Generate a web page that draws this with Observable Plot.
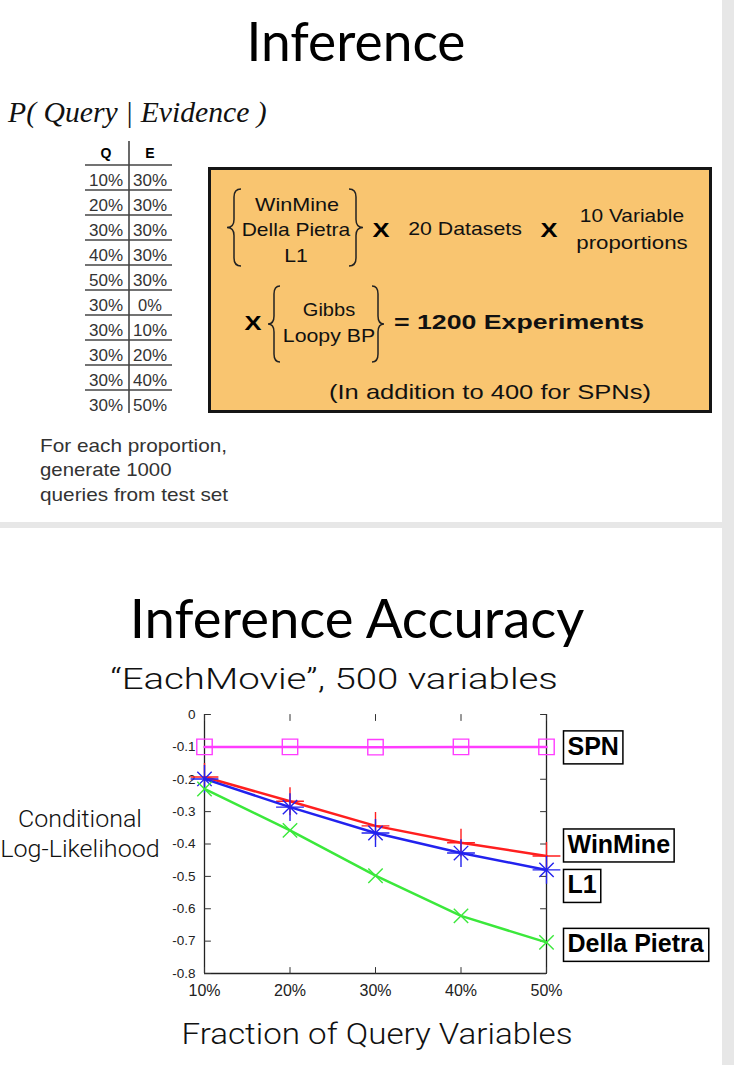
<!DOCTYPE html>
<html><head><meta charset="utf-8">
<script src="https://cdn.jsdelivr.net/npm/d3@7"></script>
<script src="https://cdn.jsdelivr.net/npm/@observablehq/plot@0.6"></script>
<style>
html,body{margin:0;padding:0;}
body{width:734px;height:1065px;background:#e7e7e7;position:relative;overflow:hidden;font-family:"Liberation Sans",Arial,sans-serif;}
.slide{position:absolute;left:0;width:722px;background:#fff;}
.t{position:absolute;white-space:nowrap;line-height:1;}
#chart{position:absolute;left:0;top:700px;}
</style></head><body>
<div class="slide" style="top:0;height:522px"></div>
<div class="slide" style="top:528px;height:537px"></div>
<div id="box" style="position:absolute;left:208px;top:167px;width:504px;height:246px;box-sizing:border-box;border:3px solid #151515;background:#f9c570;"></div>
<div id="chart"></div>
<script>
// ---------- data ----------
const tableQ = ["10%","20%","30%","40%","50%","30%","30%","30%","30%","30%"];
const tableE = ["30%","30%","30%","30%","30%","0%","10%","20%","40%","50%"];
const fractions = [10, 20, 30, 40, 50];
const xTickLabels = ["10%", "20%", "30%", "40%", "50%"];
const yTicks = [0, -0.1, -0.2, -0.3, -0.4, -0.5, -0.6, -0.7, -0.8];
const seriesNames = ["SPN", "WinMine", "L1", "Della Pietra"];
const spn = [-0.100, -0.100, -0.101, -0.100, -0.100];
const winmine = [-0.193, -0.268, -0.344, -0.396, -0.437];
const l1 = [-0.199, -0.286, -0.366, -0.428, -0.480];
const dellaPietra = [-0.230, -0.358, -0.498, -0.622, -0.704];
const labelY = [-0.100, -0.403, -0.528, -0.710];

// ---------- styles ----------
const seriesColors = ["#ff3cff", "#ff1f1f", "#2222ee", "#3be83b"];
// each series' marker drawn as one or more symbols (gnuplot "*" = plus + times)
const seriesSymbols = [[["square", 8.7]], [["plus", 9]], [["plus", 9], ["times", 6.6]], [["times", 6.6]]];

// ---------- HTML text helper ----------
function txt(str, x, cy, o = {}) {
  const d = document.createElement("div");
  d.className = "t";
  d.textContent = str;
  d.style.fontSize = (o.size || 18) + "px";
  d.style.fontFamily = o.font || '"Liberation Sans", Arial, sans-serif';
  d.style.fontWeight = o.weight || 400;
  d.style.fontStyle = o.style || "normal";
  d.style.color = o.color || "#000";
  d.style.left = x + "px";
  d.style.top = cy + "px";
  document.body.appendChild(d);
  const sx = o.w ? o.w / d.offsetWidth : (o.sx || 1);
  const start = o.anchor === "start";
  d.style.transformOrigin = start ? "left center" : "center center";
  d.style.transform = `translate(${start ? "0" : "-50%"},-50%) scaleX(${sx})`;
  return d;
}
const light = {font: 'Roboto, "Liberation Sans", sans-serif', weight: 300};

// ---------- slide 1 ----------
txt("Inference", 356, 41, {size: 54, font: "Lato, sans-serif", w: 219});
txt("P( Query | Evidence )", 8, 112, {size: 29, font: '"Liberation Serif", serif', style: "italic", anchor: "start", w: 259, color: "#111"});

// table
txt("Q", 106, 153, {size: 14, weight: 700});
txt("E", 150, 153, {size: 14, weight: 700});
tableQ.forEach((q, i) => {
  txt(q, 106, 180 + 25 * i, {size: 16.5, color: "#333", w: 34});
  txt(tableE[i], 150, 180 + 25 * i, {size: 16.5, color: "#333", w: tableE[i].length === 2 ? 24 : 34});
});

// box text
const boxRegular = {size: 18.5, color: "#111"};
txt("WinMine", 297, 205, {...boxRegular, w: 84});
txt("Della Pietra", 296, 230, {...boxRegular, w: 109});
txt("L1", 296, 256, {...boxRegular, w: 24});
txt("X", 381, 229, {size: 21, weight: 700, w: 17});
txt("20 Datasets", 465, 229, {...boxRegular, w: 114});
txt("X", 549, 229, {size: 21, weight: 700, w: 17});
txt("10 Variable", 632, 216, {...boxRegular, w: 104});
txt("proportions", 632, 243, {...boxRegular, w: 112});
txt("X", 253, 322, {size: 21, weight: 700, w: 17});
txt("Gibbs", 329, 310, {...boxRegular, w: 52});
txt("Loopy BP", 329, 336, {...boxRegular, w: 92});
txt("= 1200 Experiments", 519, 322, {size: 20.5, weight: 700, w: 250, color: "#111"});
txt("(In addition to 400 for SPNs)", 490, 391, {size: 21, w: 322, color: "#111"});

// note
txt("For each proportion,", 40, 445, {size: 19, color: "#333", anchor: "start", w: 187});
txt("generate 1000", 40, 469, {size: 19, color: "#333", anchor: "start", w: 132});
txt("queries from test set", 40, 494, {size: 19, color: "#333", anchor: "start", w: 188});

// decorations: table rules and braces
const ns = "http://www.w3.org/2000/svg";
const deco = document.createElementNS(ns, "svg");
deco.setAttribute("width", 734); deco.setAttribute("height", 522);
deco.style.position = "absolute"; deco.style.left = "0"; deco.style.top = "0";
function path(d, w, c) {
  const p = document.createElementNS(ns, "path");
  p.setAttribute("d", d); p.setAttribute("fill", "none");
  p.setAttribute("stroke", c || "#222"); p.setAttribute("stroke-width", w || 1.5);
  deco.appendChild(p);
}
path("M129,141 V413", 1.6, "#444");
for (let i = 0; i < tableQ.length; i++) path(`M85,${165 + 25 * i} H172`, 1.6, "#444");
function brace(tip, width, y1, y2, left) {
  const s = left ? 1 : -1, xs = tip + s * width / 2, xe = tip + s * width, ym = (y1 + y2) / 2, r = 8;
  path(`M${xe},${y1} Q${xs},${y1} ${xs},${y1 + r} L${xs},${ym - r} Q${xs},${ym} ${tip},${ym} Q${xs},${ym} ${xs},${ym + r} L${xs},${y2 - r} Q${xs},${y2} ${xe},${y2}`, 1.5, "#222");
}
brace(227, 14, 189, 266, true);
brace(363, 14, 189, 266, false);
brace(268, 12, 286, 362, true);
brace(384, 12, 286, 362, false);
document.body.appendChild(deco);

// ---------- slide 2 ----------
txt("Inference Accuracy", 357, 618, {size: 54, font: "Lato, sans-serif", w: 455});
txt("\u201CEachMovie\u201D, 500 variables", 334, 679, {...light, size: 30, color: "#111", w: 448});
txt("Conditional", 80, 819, {...light, size: 24, color: "#111", w: 124});
txt("Log-Likelihood", 80, 849, {...light, size: 24, color: "#111", w: 160});
txt("Fraction of Query Variables", 377, 1034, {...light, size: 29, color: "#111", w: 391});

// ---------- chart ----------
const seriesValues = [spn, winmine, l1, dellaPietra];
const rows = seriesNames.flatMap((s, k) => fractions.map((f, i) => ({series: s, fraction: f, value: seriesValues[k][i]})));
const tickShape = {draw(context, l) { context.moveTo(0, 0); context.lineTo(0, -l); }};
const tickOpts = {length: 6, anchor: "start", shape: tickShape, stroke: "#333", strokeWidth: 1};
const xMin = fractions[0], xMax = fractions[fractions.length - 1];
const yMin = yTicks[yTicks.length - 1], yMax = yTicks[0];

const marks = [
  Plot.ruleX([xMin, xMax], {stroke: "#222", strokeWidth: 1.3}),
  Plot.ruleY([yMin], {stroke: "#222", strokeWidth: 1.3}),
  Plot.vector(yTicks, {...tickOpts, x: xMin, y: d => d, rotate: 90}),
  Plot.vector(yTicks, {...tickOpts, x: xMax, y: d => d, rotate: -90}),
  Plot.vector(fractions, {...tickOpts, x: d => d, y: yMin, rotate: 0}),
  Plot.vector(fractions, {...tickOpts, x: d => d, y: yMax, rotate: 180}),
  Plot.axisY({ticks: yTicks, tickSize: 0, tickPadding: 9, fontSize: 13.5, label: null, tickFormat: d => d === 0 ? "0" : String(d)}),
  Plot.axisX({ticks: fractions, tickSize: 0, tickPadding: 11, fontSize: 16, label: null, tickFormat: d => xTickLabels[fractions.indexOf(d)]})
];
seriesNames.forEach((s, k) => {
  const data = rows.filter(r => r.series === s);
  marks.push(Plot.line(data, {x: "fraction", y: "value", stroke: seriesColors[k], strokeWidth: 2.5}));
  seriesSymbols[k].forEach(([sym, r]) => {
    marks.push(Plot.dot(data, {x: "fraction", y: "value", stroke: seriesColors[k], fill: "none", symbol: sym, r, strokeWidth: 1.4}));
  });
});
marks.push(Plot.text(seriesNames, {x: xMax, y: (d, i) => labelY[i], text: d => d, dx: 21, textAnchor: "start", fontSize: 25, fontWeight: "bold", fill: "#000", ariaDescription: "series-label"}));

const chart = Plot.plot({
  width: 734, height: 300,
  marginLeft: 204, marginRight: 188, marginTop: 14, marginBottom: 27,
  x: {domain: [xMin, xMax]},
  y: {domain: [yMin, yMax]},
  style: {fontFamily: '"Liberation Sans", Arial, sans-serif', background: "transparent", overflow: "visible", color: "#222"},
  marks
});
document.getElementById("chart").appendChild(chart);

// boxes around series labels
const labelTexts = Array.from(chart.querySelectorAll("text")).filter(t => t.getAttribute("font-weight") === "bold" || (t.parentNode && t.parentNode.getAttribute("aria-description") === "series-label"))
  .filter(t => seriesNames.includes(t.textContent));
labelTexts.forEach(t => {
  const b = t.getBBox();
  const r = document.createElementNS(ns, "rect");
  r.setAttribute("x", b.x - 4); r.setAttribute("y", b.y - 1);
  r.setAttribute("width", b.width + 8); r.setAttribute("height", b.height + 5);
  r.setAttribute("fill", "#fff"); r.setAttribute("stroke", "#000"); r.setAttribute("stroke-width", 1.5);
  if (t.getAttribute("transform")) r.setAttribute("transform", t.getAttribute("transform"));
  t.parentNode.insertBefore(r, t);
});
</script>
</body></html>
